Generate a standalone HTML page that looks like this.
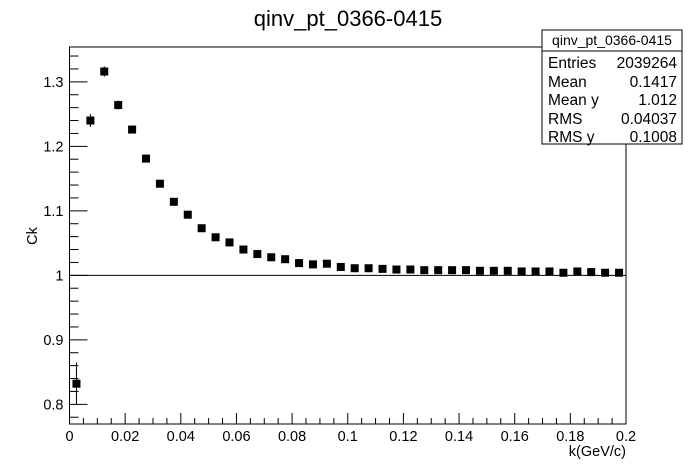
<!DOCTYPE html>
<html><head><meta charset="utf-8"><style>
body{margin:0;background:#fff;}
svg{display:block;font-family:"Liberation Sans",Arial,sans-serif;}
</style></head><body>
<svg id="c" width="696" height="472" xmlns="http://www.w3.org/2000/svg">
<rect width="696" height="472" fill="#fff"/>
<text x="348" y="26" font-size="22" text-anchor="middle">qinv_pt_0366-0415</text>
<g id="axes"></g>
<g id="marks"></g>
<g>
<rect x="542" y="30" width="140" height="114" fill="#fff" stroke="#000" stroke-width="1"/>
<line x1="542" y1="51" x2="682" y2="51" stroke="#000"/>
<text x="612" y="45" font-size="14" text-anchor="middle">qinv_pt_0366-0415</text>
<g font-size="15.5">
<text x="548" y="68">Entries</text><text x="677" y="68" text-anchor="end">2039264</text>
<text x="548" y="87">Mean</text><text x="677" y="87" text-anchor="end">0.1417</text>
<text x="548" y="105">Mean y</text><text x="677" y="105" text-anchor="end">1.012</text>
<text x="548" y="124">RMS</text><text x="677" y="124" text-anchor="end">0.04037</text>
<text x="548" y="142">RMS y</text><text x="677" y="142" text-anchor="end">0.1008</text>
</g></g>
</svg>
<script>
const binCenters=[0.0025,0.0075,0.0125,0.0175,0.0225,0.0275,0.0325,0.0375,0.0425,0.0475,0.0525,0.0575,0.0625,0.0675,0.0725,0.0775,0.0825,0.0875,0.0925,0.0975,0.1025,0.1075,0.1125,0.1175,0.1225,0.1275,0.1325,0.1375,0.1425,0.1475,0.1525,0.1575,0.1625,0.1675,0.1725,0.1775,0.1825,0.1875,0.1925,0.1975];
const ckValues=[0.832,1.240,1.316,1.264,1.226,1.181,1.142,1.114,1.094,1.073,1.059,1.051,1.040,1.033,1.028,1.025,1.019,1.017,1.018,1.013,1.011,1.011,1.010,1.009,1.009,1.008,1.008,1.008,1.008,1.007,1.007,1.007,1.006,1.006,1.006,1.004,1.006,1.005,1.004,1.004];
const ckErrors=[0.033,0.010,0.008,0.007,0.004,0.003,0.003,0.002,0.002,0.002,0.002,0.002,0.001,0.001,0.001,0.001,0.001,0.001,0.001,0.001,0.001,0.001,0.001,0.001,0.001,0.001,0.001,0.001,0.001,0.001,0.001,0.001,0.001,0.001,0.001,0.001,0.001,0.001,0.001,0.001];
const xTickLabels=["0","0.02","0.04","0.06","0.08","0.1","0.12","0.14","0.16","0.18","0.2"];
const yTickLabels=["0.8","0.9","1","1.1","1.2","1.3"];
const X0=69.5,X1=626,Y0=424,Y1=47,xmin=0,xmax=0.2,ymin=0.7695,ymax=1.354;
const sx=v=>X0+(v-xmin)/(xmax-xmin)*(X1-X0);
const sy=v=>Y0-(v-ymin)/(ymax-ymin)*(Y0-Y1);
const NS="http://www.w3.org/2000/svg";
function mk(parent,tag,attrs){const e=document.createElementNS(NS,tag);for(const k in attrs)e.setAttribute(k,attrs[k]);parent.appendChild(e);return e;}
const ax=document.getElementById('axes'),mg=document.getElementById('marks');
const fr=mk(ax,'rect',{x:X0,y:Y1,width:X1-X0,height:Y0-Y1,fill:'none',stroke:'#000','stroke-width':1});


const ref=mk(ax,'line',{x1:X0,x2:X1,y1:sy(1),y2:sy(1),stroke:'#000','stroke-width':1});


for(let i=0;i<=40;i++){const v=i*0.005,x=sx(v),L=(i%4===0)?11:6;mk(ax,'line',{x1:x,x2:x,y1:Y0,y2:Y0-L,stroke:'#000'});}
xTickLabels.forEach(t=>{const e=mk(ax,'text',{x:sx(parseFloat(t)),y:Y0+17,'font-size':14.5,'text-anchor':'middle'});e.textContent=t;

});
for(let v=0.78;v<=1.35;v+=0.02){const r=Math.round(v*100)/100,y=sy(r),major=Math.abs(r*10-Math.round(r*10))<1e-6;mk(ax,'line',{x1:X0,x2:X0+(major?18:9),y1:y,y2:y,stroke:'#000'});}
yTickLabels.forEach(t=>{const e=mk(ax,'text',{x:X0-6,y:sy(parseFloat(t))+5,'font-size':14.5,'text-anchor':'end'});e.textContent=t;

});
const xt=mk(ax,'text',{x:626,y:456,'font-size':14.5,'text-anchor':'end'});xt.textContent='k(GeV/c)';


const yt=mk(ax,'text',{x:37,y:236,'font-size':14.5,'text-anchor':'middle',transform:'rotate(-90 37 236)'});yt.textContent='Ck';


binCenters.forEach((c,i)=>{const x=sx(c),y=sy(ckValues[i]);
const eb=mk(mg,'line',{x1:x,x2:x,y1:sy(ckValues[i]+ckErrors[i]),y2:sy(ckValues[i]-ckErrors[i]),stroke:'#000'});


const p=mk(mg,'rect',{x:x-4,y:y-4,width:8,height:8,fill:'#000'});

});
</script>
</body></html>
